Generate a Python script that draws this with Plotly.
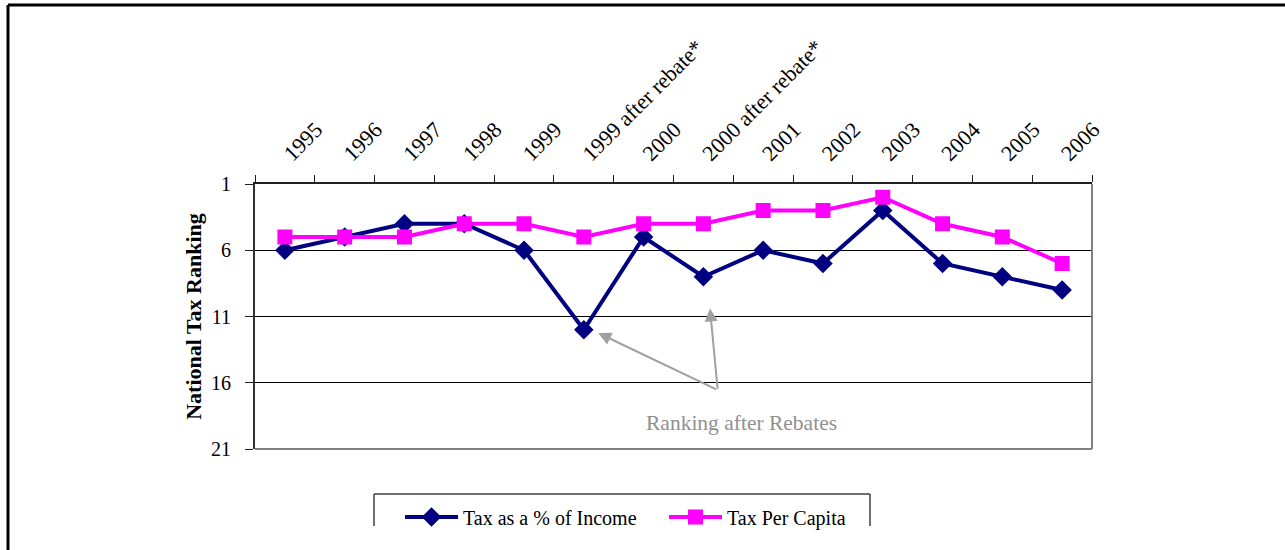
import plotly.graph_objects as go

categories = ["1995", "1996", "1997", "1998", "1999", "1999 after rebate*", "2000",
              "2000 after rebate*", "2001", "2002", "2003", "2004", "2005", "2006"]
tax_pct_income = [6, 5, 4, 4, 6, 12, 5, 8, 6, 7, 3, 7, 8, 9]
tax_per_capita = [5, 5, 5, 4, 4, 5, 4, 4, 3, 3, 2, 4, 5, 7]
y_ticks = [1, 6, 11, 16, 21]

W, H = 1285, 550
L, R, T, B = 255, 1092, 184, 449  # plot area pixel box


def px(x):
    return (x - L) / (R - L)


def py(y):
    return (B - y) / (B - T)


SERIF = "Liberation Serif, Times New Roman, serif"

fig = go.Figure()
fig.add_trace(go.Scatter(
    x=categories, y=tax_pct_income, name="Tax as a % of Income",
    mode="lines+markers",
    line=dict(color="#000080", width=4),
    marker=dict(symbol="diamond", size=15, color="#000080"),
))
fig.add_trace(go.Scatter(
    x=categories, y=tax_per_capita, name="Tax Per Capita",
    mode="lines+markers",
    line=dict(color="#FF00FF", width=4),
    marker=dict(symbol="square", size=15, color="#FF00FF"),
))

shapes = [
    # outer frame (top and left visible)
    dict(type="line", xref="paper", yref="paper", x0=px(8), x1=px(1300), y0=py(5), y1=py(5),
         line=dict(color="black", width=3)),
    dict(type="line", xref="paper", yref="paper", x0=px(8), x1=px(8), y0=py(5), y1=py(560),
         line=dict(color="black", width=3)),
    # plot area right / bottom border
    dict(type="line", xref="paper", yref="paper", x0=1, x1=1, y0=0, y1=1,
         line=dict(color="#808080", width=2)),
    dict(type="line", xref="paper", yref="paper", x0=0, x1=1, y0=0, y1=0,
         line=dict(color="#808080", width=2)),
    # legend box (top + sides)
    dict(type="line", xref="paper", yref="paper", x0=px(374), x1=px(870), y0=py(494), y1=py(494),
         line=dict(color="#404040", width=1.5)),
    dict(type="line", xref="paper", yref="paper", x0=px(374), x1=px(374), y0=py(494), y1=py(526),
         line=dict(color="#404040", width=1.5)),
    dict(type="line", xref="paper", yref="paper", x0=px(870), x1=px(870), y0=py(494), y1=py(526),
         line=dict(color="#404040", width=1.5)),
]

arrow_color = "#A0A0A0"
annotations = [
    dict(x=5.24, y=12.25, ax=7.24, ay=16.55, xref="x", yref="y", axref="x", ayref="y",
         showarrow=True, arrowhead=2, arrowsize=1.3, arrowwidth=2, arrowcolor=arrow_color, text=""),
    dict(x=7.11, y=10.4, ax=7.24, ay=16.55, xref="x", yref="y", axref="x", ayref="y",
         showarrow=True, arrowhead=2, arrowsize=1.3, arrowwidth=2, arrowcolor=arrow_color, text=""),
    dict(x=7.64, y=19.05, xref="x", yref="y", showarrow=False, text="Ranking after Rebates",
         font=dict(family=SERIF, size=21.5, color="#909090")),
]

fig.update_layout(
    width=W, height=H,
    margin=dict(l=L, r=W - R, t=T, b=H - B, autoexpand=False),
    paper_bgcolor="white", plot_bgcolor="white",
    font=dict(family=SERIF, size=20, color="black"),
    showlegend=True,
    legend=dict(orientation="h", x=px(400), xanchor="left", y=py(517), yanchor="middle",
                font=dict(family=SERIF, size=20, color="black"),
                itemwidth=53, bgcolor="rgba(0,0,0,0)", entrywidth=196, entrywidthmode="pixels"),
    shapes=shapes,
    annotations=annotations,
    xaxis=dict(
        type="category", side="top", tickangle=-45,
        showgrid=False, showline=True, linecolor="#202020", linewidth=1.5,
        ticks="outside", tickson="boundaries", ticklen=7, tickcolor="#202020",
        ticklabelstandoff=8,
        tickfont=dict(family=SERIF, size=22, color="black"),
        range=[-0.5, len(categories) - 0.5],
        zeroline=False,
    ),
    yaxis=dict(
        range=[21, 1], tickvals=y_ticks, ticktext=[str(v) for v in y_ticks],
        showgrid=True, gridcolor="black", gridwidth=1,
        showline=True, linecolor="#303030", linewidth=2,
        ticks="outside", ticklen=8, tickcolor="#202020",
        ticklabelstandoff=10,
        tickfont=dict(family=SERIF, size=20, color="black"),
        zeroline=False,
        title=dict(text="<b>National Tax Ranking</b>", font=dict(family=SERIF, size=22, color="black"),
                   standoff=3),
    ),
)

fig.write_html("out.html", config={"displayModeBar": False},
               post_script="document.body.style.margin='0';")
